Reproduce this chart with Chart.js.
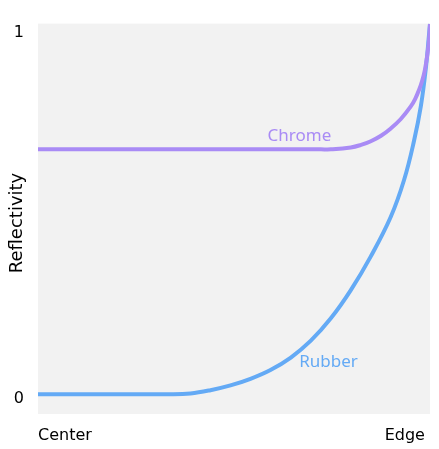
<!DOCTYPE html>
<html>
<head>
<meta charset="utf-8">
<script src="https://cdn.jsdelivr.net/npm/chart.js@4"></script>
<style>
  html, body { margin: 0; padding: 0; background: #fff; }
  #wrap { width: 439px; height: 449px; }
</style>
</head>
<body>
<div id="wrap"><canvas id="myCanvas" width="439" height="449"></canvas></div>
<script>
// position across the ball, 0 = centre, 1 = edge
const rubberX = [0, 0.338, 0.389, 0.44, 0.491, 0.542, 0.593, 0.645, 0.696, 0.747, 0.798, 0.849, 0.9, 0.934, 0.959, 0.977, 0.99, 0.997, 1.0];
const rubberY = [0, 0, 0.002, 0.011, 0.024, 0.042, 0.066, 0.1, 0.146, 0.207, 0.284, 0.376, 0.484, 0.585, 0.69, 0.788, 0.895, 0.975, 1.01];

const chromeX = [0, 0.4, 0.722, 0.747, 0.798, 0.824, 0.849, 0.875, 0.9, 0.925, 0.951, 0.962, 0.972, 0.98, 0.987, 0.993, 0.997, 1.0];
const chromeY = [0.668, 0.668, 0.668, 0.668, 0.673, 0.68, 0.69, 0.705, 0.725, 0.75, 0.785, 0.805, 0.83, 0.855, 0.885, 0.925, 0.96, 1.01];

const xTickLabels = ['Center', 'Edge'];
const xTickValues = [0, 0.987];
const yTickValues = [0, 1];
const seriesNames = ['Chrome', 'Rubber'];

document.addEventListener('DOMContentLoaded', function () {
    const purple = '#a98bf5';
    const blue = '#64aaf5';

    function toPoints(xs, ys) {
        return xs.map((x, i) => ({ x: x, y: ys[i] }));
    }

    const plotBackground = {
        id: 'plotBackground',
        beforeDraw(chart) {
            const { ctx, chartArea } = chart;
            ctx.save();
            ctx.fillStyle = '#f2f2f2';
            ctx.fillRect(chartArea.left, chartArea.top, chartArea.right - chartArea.left, chartArea.bottom - chartArea.top);
            ctx.restore();
        }
    };

    // series names written next to their curves, plus the y title
    const curveLabels = {
        id: 'curveLabels',
        afterDatasetsDraw(chart) {
            const { ctx, scales } = chart;
            const spots = [
                { text: seriesNames[0], x: 0.667, y: 0.704, color: purple },
                { text: seriesNames[1], x: 0.741, y: 0.087, color: blue }
            ];
            ctx.save();
            ctx.font = '17px "Noto Sans"';
            ctx.textAlign = 'center';
            ctx.textBaseline = 'middle';
            spots.forEach(s => {
                ctx.fillStyle = s.color;
                ctx.fillText(s.text, scales.x.getPixelForValue(s.x), scales.y.getPixelForValue(s.y));
            });
            ctx.translate(17, 223);
            ctx.rotate(-Math.PI / 2);
            ctx.fillStyle = '#000';
            ctx.font = '18px "DejaVu Sans"';
            ctx.fillText('Reflectivity', 0, 0);
            ctx.restore();
        }
    };

    const canvas = document.getElementById('myCanvas');
    new Chart(canvas.getContext('2d'), {
        type: 'line',
        data: {
            datasets: [{
                label: seriesNames[0],
                data: toPoints(chromeX, chromeY),
                borderColor: purple,
                borderWidth: 4,
                pointRadius: 0,
                tension: 0.4,
                fill: false
            }, {
                label: seriesNames[1],
                data: toPoints(rubberX, rubberY),
                borderColor: blue,
                borderWidth: 4,
                pointRadius: 0,
                tension: 0.4,
                fill: false
            }]
        },
        options: {
            responsive: false,
            animation: false,
            layout: { padding: { top: 22, right: 9, left: 0, bottom: 0 } },
            plugins: {
                legend: { display: false },
                tooltip: { enabled: false }
            },
            scales: {
                x: {
                    type: 'linear',
                    min: 0,
                    max: 1,
                    grid: { display: false },
                    border: { display: false },
                    afterBuildTicks(scale) {
                        scale.ticks = xTickValues.map(v => ({ value: v }));
                    },
                    afterFit(scale) { scale.height = 35; },
                    ticks: {
                        align: 'inner',
                        padding: 4,
                        color: '#000',
                        font: { family: 'DejaVu Sans', size: 16 },
                        callback: (v, i) => xTickLabels[i]
                    }
                },
                y: {
                    min: -0.054,
                    max: 1.011,
                    grid: { display: false, drawTicks: false },
                    border: { display: false },
                    afterBuildTicks(scale) {
                        scale.ticks = yTickValues.map(v => ({ value: v }));
                    },
                    afterFit(scale) { scale.width = 38; },
                    ticks: {
                        padding: 14,
                        labelOffset: 5,
                        color: '#000',
                        font: { family: 'DejaVu Sans', size: 16 },
                        callback: (v) => String(v)
                    }
                }
            }
        },
        plugins: [plotBackground, curveLabels]
    });
});
</script>
</body>
</html>
